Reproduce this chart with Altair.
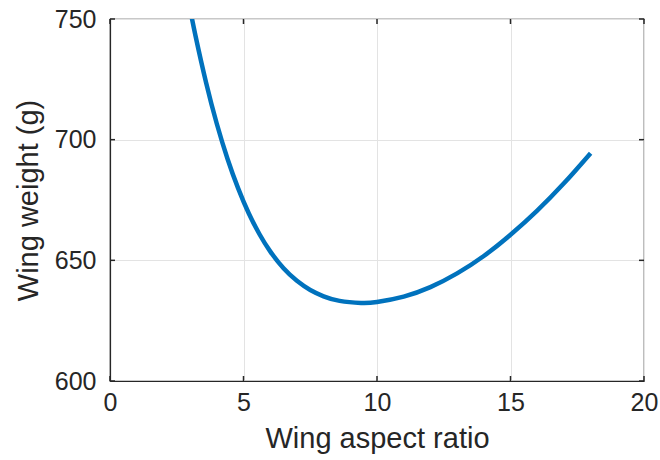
import altair as alt
import pandas as pd

aspect_ratio = [3.0, 3.2, 3.6, 4.0, 4.4, 4.8, 5.2, 5.6, 6.0, 6.5, 7.0, 7.5, 8.0, 8.6, 9.4, 10.0, 11.0, 12.0, 13.0, 14.0, 15.0, 16.0, 17.0, 18.0]
wing_weight = [754.1, 743.2, 723.6, 706.6, 692.1, 679.8, 669.4, 660.8, 653.7, 646.7, 641.5, 637.7, 635.1, 633.2, 632.35, 632.74, 634.99, 638.9, 644.6, 651.8, 660.6, 670.6, 681.9, 694.4]

x_ticks = [0, 5, 10, 15, 20]
y_ticks = [600, 650, 700, 750]

W, H = 534, 362
FONT = "Liberation Sans"
AX = "#262626"

df = pd.DataFrame({"ar": aspect_ratio, "w": wing_weight})
xt = pd.DataFrame({"t": x_ticks})
yt = pd.DataFrame({"t": y_ticks})

xs = alt.Scale(domain=[0, 20], nice=False)
ys = alt.Scale(domain=[600, 750], nice=False)

line = alt.Chart(df).mark_line(color="#0072BD", strokeWidth=4.5, clip=True, interpolate="natural").encode(
    x=alt.X("ar:Q", scale=xs, title="Wing aspect ratio",
            axis=alt.Axis(values=x_ticks, tickSize=0, labelPadding=9, titlePadding=9, labelFlush=False)),
    y=alt.Y("w:Q", scale=ys, title="Wing weight (g)",
            axis=alt.Axis(values=y_ticks, tickSize=0, labelPadding=14, titlePadding=11, labelFlush=False)),
)

tb = alt.Chart(xt).mark_rule(color=AX, strokeWidth=1.5).encode(
    x=alt.X("t:Q", scale=xs), y=alt.value(H - 5), y2=alt.value(H))
tt = alt.Chart(xt).mark_rule(color=AX, strokeWidth=1.5).encode(
    x=alt.X("t:Q", scale=xs), y=alt.value(0), y2=alt.value(5))
tl = alt.Chart(yt).mark_rule(color=AX, strokeWidth=1.5).encode(
    y=alt.Y("t:Q", scale=ys), x=alt.value(0), x2=alt.value(5))
tr = alt.Chart(yt).mark_rule(color=AX, strokeWidth=1.5).encode(
    y=alt.Y("t:Q", scale=ys), x=alt.value(W - 5), x2=alt.value(W))

chart = alt.layer(tb, tt, tl, tr, line).properties(
    width=W, height=H,
    background="white",
    autosize=alt.AutoSizeParams(type="none"),
    padding={"left": 110, "top": 19, "right": 16, "bottom": 79},
).configure_view(stroke=AX, strokeWidth=1.2).configure_axis(
    grid=True, gridColor="#e3e3e3", gridWidth=1,
    domainColor=AX, domainWidth=1.2,
    labelFont=FONT, labelFontSize=25, labelColor=AX,
    titleFont=FONT, titleFontSize=29, titleColor=AX, titleFontWeight="normal",
)

chart.save("out.html", embed_options={"renderer": "svg", "actions": False})
